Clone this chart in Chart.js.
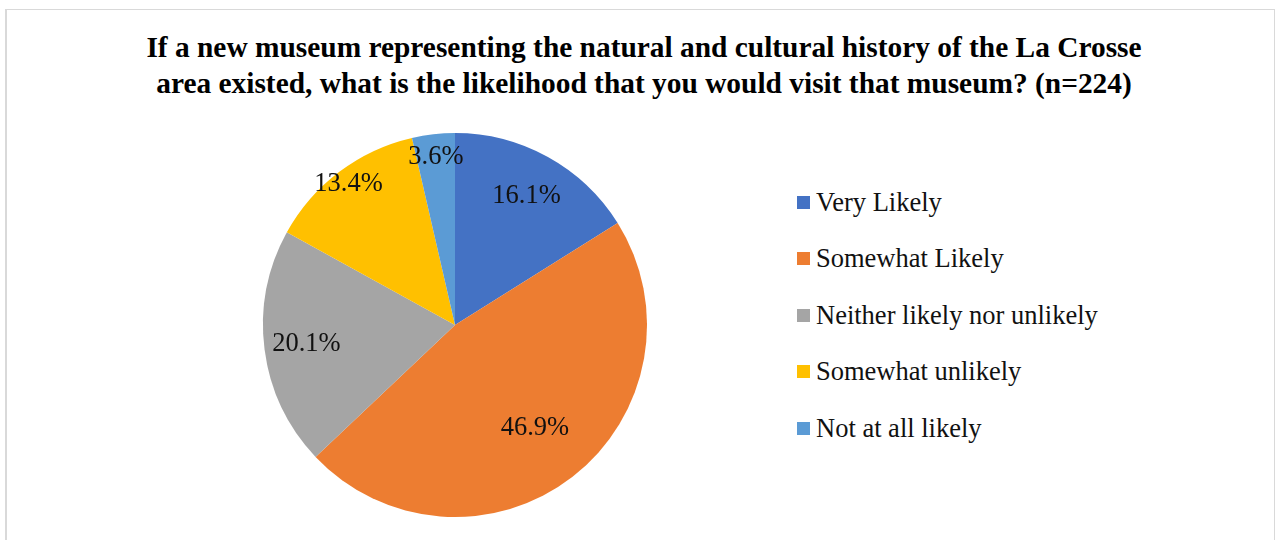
<!DOCTYPE html>
<html>
<head>
<meta charset="utf-8">
<script src="https://cdn.jsdelivr.net/npm/chart.js@4.4.1/dist/chart.umd.min.js"></script>
<style>
  html, body { margin:0; padding:0; background:#fff; }
  body { width:1283px; height:540px; position:relative; overflow:hidden; font-family:"Liberation Serif", "Times New Roman", serif; }
  .frame { position:absolute; left:5px; top:9px; width:1270px; height:560px; border:1px solid #d9d9d9; border-left-width:2px; box-sizing:border-box; }
  .title { position:absolute; left:5px; width:1278px; top:29px; text-align:center; font-weight:bold; font-size:29.4px; line-height:36px; color:#000; }
  .pie-wrap { position:absolute; left:255px; top:125px; width:400px; height:400px; }
  .legend { position:absolute; left:797px; top:0; }
  .legend-item { position:absolute; left:0; white-space:nowrap; font-size:26.5px; color:#111; display:flex; align-items:center; height:30px; }
  .legend-box { width:13px; height:13px; margin-right:6px; }
</style>
</head>
<body>
<script>
// survey answers and their share of respondents (n=224)
const categories = ['Very Likely', 'Somewhat Likely', 'Neither likely nor unlikely', 'Somewhat unlikely', 'Not at all likely'];
const percents = [16.1, 46.9, 20.1, 13.4, 3.6];
const sliceColors = ['#4472C4', '#ED7D31', '#A5A5A5', '#FFC000', '#5B9BD5'];
// how far out along each slice's bisector its label sits (fraction of radius)
const labelRadius = [0.77, 0.68, 0.78, 0.92, 0.88];
</script>

<div class="frame"></div>
<div class="title">If a new museum representing the natural and cultural history of the La Crosse<br>area existed, what is the likelihood that you would visit that museum? (n=224)</div>
<div class="pie-wrap"><canvas id="pieChart"></canvas></div>
<div class="legend" id="legend"></div>

<script>
const legendEl = document.getElementById('legend');
categories.forEach((name, i) => {
  const row = document.createElement('div');
  row.className = 'legend-item';
  row.style.top = (187 + i * 56.5) + 'px';
  row.innerHTML = `<span class="legend-box" style="background:${sliceColors[i]}"></span><span>${name}</span>`;
  legendEl.appendChild(row);
});

// percentage labels drawn on each slice
const sliceLabels = {
  id: 'sliceLabels',
  afterDatasetsDraw(chart) {
    const ctx = chart.ctx;
    const meta = chart.getDatasetMeta(0);
    ctx.save();
    ctx.font = '26.5px "Liberation Serif", "Times New Roman", serif';
    ctx.fillStyle = '#111';
    ctx.textAlign = 'center';
    ctx.textBaseline = 'middle';
    meta.data.forEach((arc, i) => {
      const p = arc.getProps(['x', 'y', 'startAngle', 'endAngle', 'outerRadius'], true);
      const mid = (p.startAngle + p.endAngle) / 2;
      const r = p.outerRadius * labelRadius[i];
      ctx.fillText(percents[i].toFixed(1) + '%', p.x + Math.cos(mid) * r, p.y + Math.sin(mid) * r);
    });
    ctx.restore();
  }
};

new Chart(document.getElementById('pieChart'), {
  type: 'pie',
  data: {
    labels: categories,
    datasets: [{
      data: percents,
      backgroundColor: sliceColors,
      borderWidth: 0
    }]
  },
  options: {
    responsive: true,
    maintainAspectRatio: false,
    animation: false,
    layout: { padding: 8 },
    plugins: { legend: { display: false }, tooltip: { enabled: false } }
  },
  plugins: [sliceLabels]
});
</script>
</body>
</html>
